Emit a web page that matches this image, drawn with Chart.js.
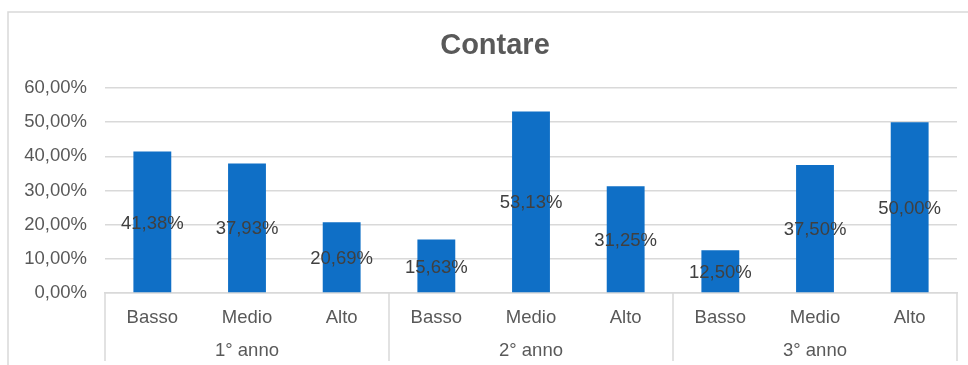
<!DOCTYPE html>
<html>
<head>
<meta charset="utf-8">
<script src="https://cdn.jsdelivr.net/npm/chart.js@4"></script>
<style>
  html, body { margin: 0; padding: 0; background: #fff; }
  #wrap { width: 968px; height: 365px; position: relative; }
</style>
</head>
<body>
<div id="wrap"><canvas id="c" width="968" height="365"></canvas></div>
<script>
// Levels, grouped by year of study
const levels = ['Basso', 'Medio', 'Alto', 'Basso', 'Medio', 'Alto', 'Basso', 'Medio', 'Alto'];
const groups = ['1° anno', '2° anno', '3° anno'];
const groupSize = 3;
const values = [41.38, 37.93, 20.69, 15.63, 53.13, 31.25, 12.50, 37.50, 50.00];
const yTicks = [0, 10, 20, 30, 40, 50, 60];
const titleText = 'Contare';

const FONT = '"Liberation Sans", Arial, sans-serif';
const GRID = '#d9d9d9';
const fmt = v => v.toFixed(2).replace('.', ',') + '%';

// Outer frame of the chart and its title
const framePlugin = {
  id: 'frame',
  beforeDraw(chart) {
    const ctx = chart.ctx;
    ctx.save();
    ctx.strokeStyle = GRID;
    ctx.lineWidth = 1.5;
    ctx.beginPath();
    ctx.moveTo(8, chart.height);
    ctx.lineTo(8, 12);
    ctx.lineTo(chart.width, 12);
    ctx.stroke();
    ctx.fillStyle = '#595959';
    ctx.font = 'bold 29px ' + FONT;
    ctx.textAlign = 'center';
    ctx.textBaseline = 'middle';
    ctx.fillText(titleText, 495, 46);
    ctx.restore();
  }
};

// Group separators and year labels under the level labels
const groupAxisPlugin = {
  id: 'groupAxis',
  afterDraw(chart) {
    const x = chart.scales.x;
    const ctx = chart.ctx;
    const half = (x.getPixelForValue(1) - x.getPixelForValue(0)) / 2;
    const top = chart.chartArea.bottom;
    ctx.save();
    ctx.strokeStyle = GRID;
    ctx.lineWidth = 1.5;
    for (let g = 0; g <= groups.length; g++) {
      const idx = g * groupSize;
      const px = idx < levels.length ? x.getPixelForValue(idx) - half
                                     : x.getPixelForValue(levels.length - 1) + half;
      ctx.beginPath();
      ctx.moveTo(px, top);
      ctx.lineTo(px, 361);
      ctx.stroke();
    }
    ctx.fillStyle = '#595959';
    ctx.font = '18.5px ' + FONT;
    ctx.textAlign = 'center';
    ctx.textBaseline = 'middle';
    groups.forEach((g, i) => {
      const a = x.getPixelForValue(i * groupSize) - half;
      const b = x.getPixelForValue(i * groupSize + groupSize - 1) + half;
      ctx.fillText(g, (a + b) / 2, 351);
    });
    ctx.restore();
  }
};

// Value labels centred inside each bar
const valueLabelPlugin = {
  id: 'valueLabels',
  afterDatasetsDraw(chart) {
    const ctx = chart.ctx;
    const meta = chart.getDatasetMeta(0);
    ctx.save();
    ctx.fillStyle = '#404040';
    ctx.font = '18.5px ' + FONT;
    ctx.textAlign = 'center';
    ctx.textBaseline = 'middle';
    meta.data.forEach((bar, i) => {
      const v = chart.data.datasets[0].data[i];
      ctx.fillText(fmt(v), bar.x, (bar.y + bar.base) / 2 + 1.5);
    });
    ctx.restore();
  }
};

new Chart(document.getElementById('c'), {
  type: 'bar',
  data: {
    labels: levels,
    datasets: [{
      data: values,
      backgroundColor: '#0f6fc6',
      borderWidth: 0,
      barPercentage: 0.4,
      categoryPercentage: 1.0
    }]
  },
  options: {
    responsive: false,
    animation: false,
    layout: { padding: { left: 0, right: 11, top: 88, bottom: 0 } },
    plugins: {
      legend: { display: false },
      tooltip: { enabled: false },
      title: { display: false }
    },
    scales: {
      x: {
        offset: true,
        grid: { display: false, drawTicks: false },
        border: { display: true, color: GRID, width: 1.5 },
        ticks: {
          color: '#595959',
          font: { family: FONT, size: 18.5 },
          padding: 14,
          maxRotation: 0,
          autoSkip: false
        },
        afterFit(s) { s.height = 72; }
      },
      y: {
        min: 0,
        max: 60,
        afterBuildTicks(s) { s.ticks = yTicks.map(v => ({ value: v })); },
        grid: { color: GRID, lineWidth: 1.5, drawTicks: false },
        border: { display: false },
        ticks: {
          color: '#595959',
          font: { family: FONT, size: 18.5 },
          padding: 18,
          callback: v => fmt(v)
        },
        afterFit(s) { s.width = 105; }
      }
    }
  },
  plugins: [framePlugin, groupAxisPlugin, valueLabelPlugin]
});
</script>
</body>
</html>
